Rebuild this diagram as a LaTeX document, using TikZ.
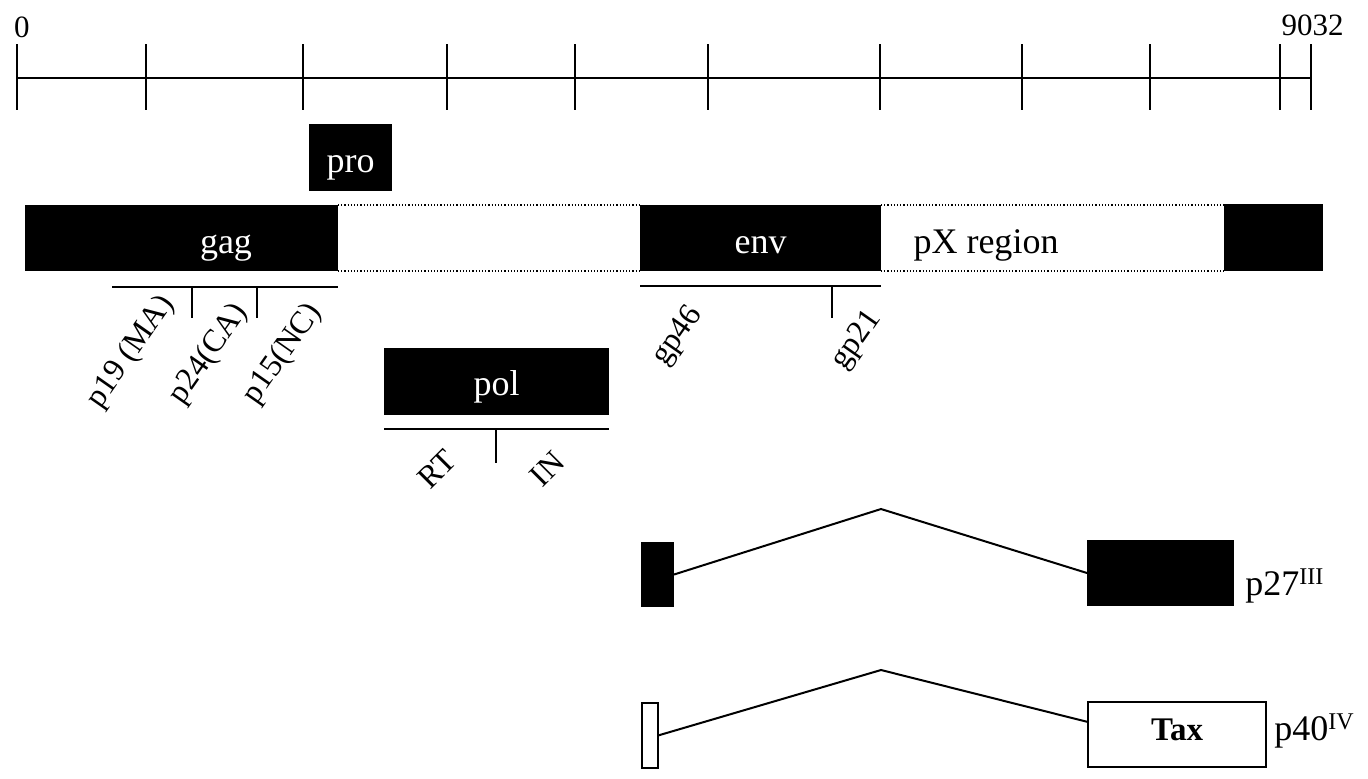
\documentclass[tikz,border=0pt]{standalone}
\usepackage{fontspec}
\setmainfont{Liberation Serif}
\newcommand{\supr}[1]{\raisebox{5.5pt}{\fontsize{12}{12}\selectfont #1}}
\begin{document}
\begin{tikzpicture}[x=0.5pt,y=-0.5pt,
  blk/.style={fill=black,draw=none,inner sep=0pt,outer sep=0pt},
  obox/.style={draw=black,line width=1pt,fill=white,inner sep=0pt,outer sep=0pt},
  lbl/.style={font=\fontsize{18}{20}\selectfont,inner sep=0pt},
  wlbl/.style={lbl,text=white},
  slbl/.style={font=\fontsize{16}{18}\selectfont,inner sep=0pt},
  rlbl/.style={slbl,rotate=55},
  num/.style={font=\fontsize{15.5}{17}\selectfont,inner sep=0pt},
  rulerline/.style={line width=1.2pt},
  subline/.style={line width=1pt},
  dots/.style={densely dotted,line width=0.6pt},
  splice/.style={line width=1pt,line join=miter}]
\useasboundingbox (0,0) rectangle (1368,778);

% genome scale
\draw[rulerline] (17,78) -- (1311,78);
\foreach \x in {17,146,303,447,575,708,880,1022,1150,1280,1311}
  \draw[rulerline] (\x,44) -- (\x,110);
\node[num,anchor=base] (zero) at (22,37) {0};
\node[num,anchor=base east] (len) at (1344,35) {9032};

% protease
\node[blk,minimum width=41.5pt,minimum height=33.5pt] (pro) at (350.5,157.5) {};
\node[wlbl,anchor=base] (protxt) at (350.5,172) {pro};

% provirus genes
\node[blk,minimum width=156.5pt,minimum height=33pt] (gag) at (181.5,238) {};
\node[wlbl,anchor=base] (gagtxt) at (226,253) {gag};
\node[blk,minimum width=120.5pt,minimum height=33pt] (env) at (760.5,238) {};
\node[wlbl,anchor=base] (envtxt) at (760.5,253) {env};
\node[blk,minimum width=49.5pt,minimum height=33.5pt] (ltr) at (1273.5,237.5) {};
\node[lbl,anchor=base] (px) at (986,253) {pX region};
\draw[dots] (gag.north east) -- (env.north west);
\draw[dots] (gag.south east) -- (env.south west);
\draw[dots] (env.north east) -- (env.north east -| ltr.west);
\draw[dots] (env.south east) -- (env.south east -| ltr.west);

% gag products
\draw[subline] (112,287) -- (338,287);
\draw[subline] (192,287) -- (192,318);
\draw[subline] (257,287) -- (257,318);
\node[rlbl] (p19) at (131,352) {p19 (MA)};
\node[rlbl] (p24) at (209,354) {p24(CA)};
\node[rlbl] (p15) at (283,354) {p15(NC)};

% env products
\draw[subline] (640,286) -- (881,286);
\draw[subline] (832,286) -- (832,318);
\node[rlbl] (gp46) at (678,336) {gp46};
\node[rlbl] (gp21) at (857,340) {gp21};

% polymerase
\node[blk,minimum width=112.5pt,minimum height=33.5pt] (pol) at (496.5,381.5) {};
\node[wlbl,anchor=base] (poltxt) at (496.5,395) {pol};
\draw[subline] (384,429) -- (609,429);
\draw[subline] (496,429) -- (496,463);
\node[slbl,rotate=45] (rt) at (437,469) {RT};
\node[slbl,rotate=45] (in) at (547,469) {IN};

% spliced mRNA for p27
\node[blk,minimum width=16.5pt,minimum height=32.5pt] (e1a) at (657.5,574.5) {};
\node[blk,minimum width=73.5pt,minimum height=33pt] (e1b) at (1160.5,573) {};
\coordinate (k1) at (881,509);
\draw[splice] (e1a.east) -- (k1) -- (e1b.west);
\node[lbl,anchor=base west] (p27) at (1245,595) {p27\supr{III}};

% spliced mRNA for p40 (Tax)
\node[obox,minimum width=8pt,minimum height=32.5pt] (e2a) at (650,735.5) {};
\node[obox,minimum width=89pt,minimum height=32.5pt] (tax) at (1177,734.5) {};
\node[lbl,font=\fontsize{16.5}{18}\selectfont\bfseries,anchor=base] (taxtxt) at (1177,740) {Tax};
\coordinate (k2) at (881,670);
\draw[splice] (e2a.east) -- (k2) -- (tax.172);
\node[lbl,anchor=base west] (p40) at (1274,740) {p40\supr{IV}};
\end{tikzpicture}
\end{document}
